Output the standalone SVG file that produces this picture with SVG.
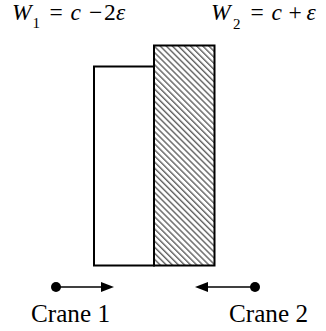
<svg xmlns="http://www.w3.org/2000/svg" width="326" height="331" viewBox="0 0 326 331">
<style>
.box{stroke:#000;stroke-width:2}
.ln{stroke:#000;stroke-width:1.5}
.f{font-family:"Liberation Serif","Times New Roman",serif;fill:#000}
</style>
<defs>
<pattern id="hatch" patternUnits="userSpaceOnUse" width="4.3" height="4.3" patternTransform="rotate(45)">
<rect width="4.3" height="4.3" fill="#fff"/>
<line x1="0" y1="1" x2="4.3" y2="1" stroke="#555" stroke-width="1.3"/>
</pattern>
</defs>
<g id="formula1" class="f" font-size="23.5">
<text font-style="italic" x="12" y="19.5">W</text>
<text font-size="15" x="32.5" y="27.5">1</text>
<text x="49.5" y="19.5">=</text>
<text font-style="italic" x="70.5" y="19.5">c</text>
<text x="89" y="19.5">−</text>
<text x="104" y="19.5">2</text>
<text font-style="italic" x="116" y="19.5">ε</text>
</g>
<g id="formula2" class="f" font-size="23.5">
<text font-style="italic" x="211" y="19.5">W</text>
<text font-size="15" x="233" y="28.5">2</text>
<text x="250.5" y="19.5">=</text>
<text font-style="italic" x="271.5" y="19.5">c</text>
<text x="288.5" y="19.5">+</text>
<text font-style="italic" x="306.5" y="19.5">ε</text>
</g>
<g id="block1">
<rect class="box" x="94" y="66.5" width="60" height="199" fill="#fff"/>
</g>
<g id="block2">
<rect class="box" x="154" y="45.5" width="60.5" height="220" fill="url(#hatch)"/>
</g>
<g id="connectors">
<line class="ln" x1="56" y1="287" x2="103" y2="287"/>
<polygon points="114,287 101,282 101,292" fill="#000"/>
<line class="ln" x1="255" y1="287" x2="206" y2="287"/>
<polygon points="195,287 208,282 208,292" fill="#000"/>
</g>
<g id="crane1">
<circle cx="56" cy="287" r="5" fill="#000"/>
<text class="f" font-size="25" x="31" y="322" textLength="79" lengthAdjust="spacingAndGlyphs">Crane 1</text>
</g>
<g id="crane2">
<circle cx="255" cy="287" r="5" fill="#000"/>
<text class="f" font-size="25" x="229" y="322" textLength="79" lengthAdjust="spacingAndGlyphs">Crane 2</text>
</g>
</svg>
